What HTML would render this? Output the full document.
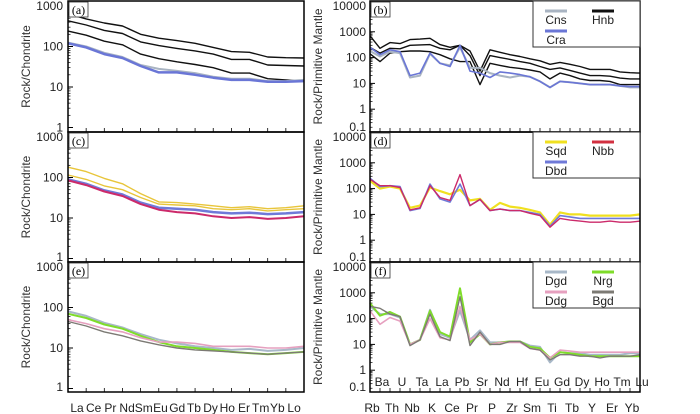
<!DOCTYPE html>
<html><head><meta charset="utf-8"><style>
body{margin:0;background:#fff;}
svg{display:block;font-family:"Liberation Sans",sans-serif;}
</style></head><body>
<svg id="c" width="700" height="414" viewBox="0 0 700 414"></svg>
<script>
const reeLabels=["La","Ce","Pr","Nd","Sm","Eu","Gd","Tb","Dy","Ho","Er","Tm","Yb","Lo"];
const spiderElems=["Rb","Ba","Th","U","Nb","Ta","K","La","Ce","Pb","Pr","Sr","P","Nd","Zr","Hf","Sm","Eu","Ti","Gd","Tb","Dy","Y","Ho","Er","Tm","Yb","Lu"];
const spiderBottom=["Rb","Th","Nb","K","Ce","Pr","P","Zr","Sm","Ti","Tb","Y","Er","Yb"];
const spiderInner=["Ba","U","Ta","La","Pb","Sr","Nd","Hf","Eu","Gd","Dy","Ho","Tm","Lu"];
const leftTicks=["1000","100","10","1"];
const rightTicks=["10000","1000","100","10","1","0.1"];
// panel a
const aHnb1=[640,480,380,320,200,160,140,120,95,75,72,55,53,52];
const aHnb2=[430,340,250,210,130,105,90,78,65,48,48,35,34,33];
const aHnb3=[240,190,135,110,65,50,42,36,30,22,22,16,15,14];
const aCns=[125,100,70,55,35,28,25,22,18,16,16,14,14,15];
const aCra=[120,95,65,52,33,23,23,20,17,15,15,13.5,13.5,14];
// panel b
const bHnb1=[700,230,380,350,500,520,560,320,250,300,180,30,200,160,130,110,90,75,55,65,55,45,35,35,35,28,26,25];
const bHnb2=[250,150,230,220,300,310,320,230,200,300,120,20,120,100,85,70,60,45,35,40,32,25,20,20,19,16,15,15];
const bHnb3=[140,70,150,170,180,180,170,130,90,70,70,9,60,50,42,38,33,28,15,25,20,15,13,13,12,9,9,9];
const bCns=[180,110,170,150,17,20,140,60,50,250,40,40,25,20,17,20,18,12,7,12,11,10,9,9,9,8,7,7];
const bCra=[250,130,200,170,20,25,150,60,45,300,30,25,17,28,25,22,18,12,7,12,11,10,9,9,9,8,7.5,7.5];
// panel c
const cSqd1=[180,140,95,70,40,25,24,22,20,18,19,17,18,20];
const cSqd2=[115,90,62,50,32,22,21,20,17,16,17,15,16,17];
const cDbd=[90,70,48,38,24,18,17,16,14,13,13.5,12.5,13,14];
const cNbb=[85,65,45,35,22,16,14,13,11,10,10.5,9.5,10,11];
// panel d
const dSqd=[200,100,120,100,18,22,110,80,60,90,35,40,15,28,20,18,15,12,4,12,10,10,9,9,9,9,9,10];
const dDbd=[250,120,130,120,14,17,150,40,30,150,22,38,14,16,14,14,12,10,3.5,9,8,7,7,7,7,7,7,7];
const dNbb=[230,130,130,110,15,18,130,45,35,350,22,38,14,16,14,14,11,9,3.2,7,6,5.5,5,5,5.5,5,5,5.5];
// panel e
const eNrg=[70,55,38,30,20,14,11,10,9,8,7.5,7,7.5,8];
const eDgd=[80,62,42,32,22,16,13,11,10,9,9.5,8.5,9,10];
const eDdg=[50,40,30,25,18,14,14,13,11,11,11,10,10,11];
const eBgd=[45,35,25,20,15,12,10,9,8.5,8,7.5,7,7.5,8];
// panel f
const fNrg=[400,130,180,120,10,15,200,30,20,1500,12,25,10,12,13,13,8,7,3,5,4.5,4,3.5,3.5,3.5,3.5,3.5,3.5];
const fDgd=[300,150,150,110,10,15,220,25,18,200,15,35,12,12,13,13,9,8,2,5,4.5,4.5,4,4,4,4,4.5,4.5];
const fDdg=[200,60,110,80,10,15,100,18,15,300,15,25,10,12,12,12,7,6,3,6,5.5,5,5,5,5,5,5,5];
const fBgd=[300,250,150,120,9,15,150,20,14,700,9,30,10,10,13,13,7,6,2.5,4,4,3.5,3.5,3,3.5,3.5,3.5,4];

const svg=document.getElementById('c');
const NS="http://www.w3.org/2000/svg";
function mk(tag,attrs,parent){const e=document.createElementNS(NS,tag);for(const k in attrs)e.setAttribute(k,attrs[k]);(parent||svg).appendChild(e);return e;}

const frames=[[1,132],[132,262],[262,392]];
function panel(col,row,letter,series,legend){
  const left=col===0;
  const x0=left?68:370,x1=left?304:640;
  const [y0,y1]=frames[row];
  const g=mk('g',{});
  
  
  const topExp=left?3:4, dec=left?40.5:25.8;
  const yTop=y0+5;
  const ys=v=>yTop+(topExp-Math.log10(v))*dec;
  const n=left?14:28;
  const xs=i=>x0+i*(x1-x0)/(n-1);
  const labs=left?leftTicks:rightTicks;
  labs.forEach((t,k)=>{
    let y=yTop+k*dec; if(y>y1-4){y=y1-5;}
    const tx=mk('text',{x:left?63:366,y:y+4,'text-anchor':'end','font-size':'12',fill:'#222'},g);
    tx.textContent=t;
    
    
    const yy=yTop+k*dec;
    if(yy<y1) mk('line',{x1:x0,x2:x0+5,y1:yy,y2:yy,stroke:'#000','stroke-width':1},g);
    for(let m=2;m<10;m++){const ym=yy-Math.log10(m)*dec; if(ym>y0&&ym<y1) mk('line',{x1:x0,x2:x0+2.5,y1:ym,y2:ym,stroke:'#000','stroke-width':0.7},g);}
  });
  for(let i=1;i<n-1;i++){mk('line',{x1:xs(i),x2:xs(i),y1:y1,y2:y1-4,stroke:'#000','stroke-width':0.8},g);}
  series.forEach(s=>{
    const d=s.v.map((v,i)=>(i?'L':'M')+xs(i).toFixed(1)+','+ys(v).toFixed(1)).join('');
    const p=mk('path',{d:d,fill:'none',stroke:s.c,'stroke-width':s.w||1.4,'stroke-linejoin':'round'},g);
    
    
  });
  mk('rect',{x:x0,y:y0,width:x1-x0,height:y1-y0,fill:'none',stroke:'#000','stroke-width':1.5},g);
  mk('rect',{x:x0+1,y:y0+1,width:19,height:15,fill:'#fff',stroke:'#333','stroke-width':0.8},g);
  const lt=mk('text',{x:x0+10.5,y:y0+13,'text-anchor':'middle','font-size':'12','font-family':'Liberation Serif, serif'},g);
  lt.textContent='('+letter+')';
  
  
  const cy=(y0+y1)/2, tx=left?30:322;
  const yt=mk('text',{x:tx,y:cy,'text-anchor':'middle','font-size':'12',fill:'#333',transform:`rotate(-90 ${tx} ${cy})`},g);
  yt.textContent=left?'Rock/Chondrite':'Rock/Primitive Mantle';
  
  
  if(legend){
    const lg=mk('g',{},g);
    
    
    mk('rect',{x:533,y:y0,width:107,height:46,fill:'#fff',stroke:'#333','stroke-width':1},lg);
    legend.forEach((e,k)=>{
      const cx=k%2===0?556:603, ry=y0+Math.floor(k/2)*20;
      mk('line',{x1:cx-11,x2:cx+11,y1:ry+10,y2:ry+10,stroke:e.c,'stroke-width':3},lg);
      const t=mk('text',{x:cx,y:ry+23,'text-anchor':'middle','font-size':'12',fill:'#222'},lg);
      t.textContent=e.n;
      
      
    });
  }
  return {xs};
}
const BLK='#111',CNS='#a9b4c2',CRA='#6a76d6',SQD='#e8c53a',SQY='#f0e020',DBD='#6f79d8',NBB='#cc2a6a',NBBL='#d23040';
const NRG='#7fdc2a',DGD='#a8b8c8',DDG='#e6a0bf',BGD='#7c7a74';
panel(0,0,'a',[{n:'hnb1',v:aHnb1,c:BLK},{n:'hnb2',v:aHnb2,c:BLK},{n:'hnb3',v:aHnb3,c:BLK},{n:'cns',v:aCns,c:CNS,w:2},{n:'cra',v:aCra,c:CRA,w:2.5}]);
panel(1,0,'b',[{n:'hnb1',v:bHnb1,c:BLK},{n:'hnb2',v:bHnb2,c:BLK},{n:'hnb3',v:bHnb3,c:BLK},{n:'cns',v:bCns,c:CNS,w:2},{n:'cra',v:bCra,c:CRA,w:1.6}],[{n:'Cns',c:CNS},{n:'Hnb',c:BLK},{n:'Cra',c:CRA}]);
panel(0,1,'c',[{n:'sqd1',v:cSqd1,c:SQD},{n:'sqd2',v:cSqd2,c:SQD},{n:'dbd',v:cDbd,c:DBD,w:2.5},{n:'nbb',v:cNbb,c:NBB,w:2}]);
panel(1,1,'d',[{n:'sqd',v:dSqd,c:SQY,w:2.2},{n:'dbd',v:dDbd,c:DBD,w:1.6},{n:'nbb',v:dNbb,c:NBB,w:1.4}],[{n:'Sqd',c:SQY},{n:'Nbb',c:NBBL},{n:'Dbd',c:DBD}]);
panel(0,2,'e',[{n:'dgd',v:eDgd,c:DGD,w:2},{n:'nrg',v:eNrg,c:NRG,w:2},{n:'ddg',v:eDdg,c:DDG,w:1.6},{n:'bgd',v:eBgd,c:BGD,w:1.4}]);
panel(1,2,'f',[{n:'dgd',v:fDgd,c:DGD,w:2},{n:'nrg',v:fNrg,c:NRG,w:2},{n:'ddg',v:fDdg,c:DDG,w:1.6},{n:'bgd',v:fBgd,c:BGD,w:1.4}],[{n:'Dgd',c:DGD},{n:'Nrg',c:NRG},{n:'Ddg',c:DDG},{n:'Bgd',c:BGD}]);
reeLabels.forEach((t,i)=>{
  const e=mk('text',{x:77+i*16.7,y:412,'text-anchor':'middle','font-size':'12',fill:'#222'});
  e.textContent=t;
  
  
});
const sx=i=>370+i*270/27;
spiderBottom.forEach(t=>{
  const e=mk('text',{x:sx(spiderElems.indexOf(t))+2,y:412,'text-anchor':'middle','font-size':'12',fill:'#222'});
  e.textContent=t;
  
  
});
spiderInner.forEach(t=>{
  const e=mk('text',{x:sx(spiderElems.indexOf(t))+2,y:386,'text-anchor':'middle','font-size':'12',fill:'#222'});
  e.textContent=t;
  
  
});
</script>
</body></html>
